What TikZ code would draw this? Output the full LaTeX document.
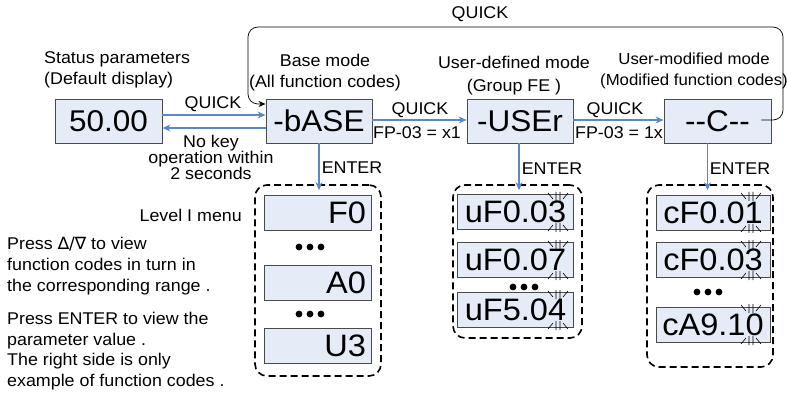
\documentclass[tikz,border=0pt]{standalone}
\usepackage{fontspec}
\setmainfont{Liberation Sans}[FakeStretch=1.05, Ligatures=TeXOff]
\newfontfamily\symfont{DejaVu Sans}
\usetikzlibrary{arrows.meta,calc}
\definecolor{boxfill}{HTML}{E6ECF7}
\definecolor{arrblue}{HTML}{5A87C8}
\definecolor{boxline}{HTML}{4A4A4A}
\newcommand\blinkmark[3]{%
  \draw[blinkline] (#1-2,#2-3) -- (#1-2,#2+6) (#1+2,#2-3) -- (#1+2,#2+6)
    (#1-10,#2-2) -- (#1-5,#2+4) (#1+10,#2-2) -- (#1+5,#2+4)
    (#1-2,#3+3) -- (#1-2,#3-6) (#1+2,#3+3) -- (#1+2,#3-6)
    (#1-10,#3+2) -- (#1-5,#3-4) (#1+10,#3+2) -- (#1+5,#3-4);}
\newcommand\dotrow[2]{%
  \fill (#1-11,#2) circle (3.4) (#1,#2) circle (3.4) (#1+11,#2) circle (3.4);}
\begin{document}
\begin{tikzpicture}[x=1pt,y=-1pt,
  lbl/.style={font=\fontsize{17}{21}\selectfont, inner sep=0pt, align=center},
  disp/.style={draw=boxline, line width=0.9pt, fill=boxfill, minimum height=44pt, inner sep=0pt, font=\fontsize{30}{30}\selectfont},
  item/.style={draw=boxline, line width=0.9pt, fill=boxfill, minimum height=35pt, inner ysep=0pt, font=\fontsize{31}{31}\selectfont},
  group/.style={draw=black, line width=1.6pt, dash pattern=on 7pt off 4pt, rounded corners=12pt, inner sep=0pt},
  barrow/.style={draw=arrblue, line width=1.1pt, -{Stealth[length=8pt,width=7pt]}},
  blinkline/.style={line width=0.6pt}
]
\useasboundingbox (0,0) rectangle (787,398);

% dashed groups
\node[group, minimum width=126pt, minimum height=191pt] (dl) at (318,280.5) {};
\node[group, minimum width=129pt, minimum height=153pt] (dm) at (517.5,261.5) {};
\node[group, minimum width=126pt, minimum height=182pt] (dr) at (710,276) {};

% main displays
\node[disp, minimum width=107pt] (s50) at (108.5,121) {50.00};
\node[disp, minimum width=106pt] (base) at (319,121) {-bASE};
\node[disp, minimum width=106pt] (user) at (520,121) {-USEr};
\node[disp, minimum width=107pt] (cmod) at (717.5,121) {--C--};

% captions
\node[lbl, align=left, anchor=west] (cap1) at (44,69.5) {Status parameters\\(Default display)};
\node[lbl] (cap2) at (325,72.5) {Base mode\\(All function codes)};
\node[lbl, font=\fontsize{17}{23}\selectfont] (cap3) at (514,75.5) {User-defined mode\\(Group FE )};
\node[lbl, font=\fontsize{16}{21}\selectfont] (cap4) at (694,70.5) {User-modified mode\\(Modified function codes)};

% horizontal arrows
\draw[barrow] ([yshift=6pt]s50.east) -- ([yshift=6pt]base.west);
\draw[barrow] ([yshift=-7pt]base.west) -- ([yshift=-7pt]s50.east);
\node[lbl] (q1) at (213,104) {QUICK};
\node[lbl, font=\fontsize{17}{16}\selectfont] (nokey) at (211,157) {No key\\operation within\\2 seconds};

\draw[barrow] ([yshift=1pt]base.east) -- ([yshift=1pt]user.west);
\node[lbl] (q2) at (420,110) {QUICK};
\node[lbl] (fp1) at (417,133) {FP-03 = x1};

\draw[barrow] ([yshift=1pt]user.east) -- ([yshift=1pt]cmod.west);
\node[lbl] (q3) at (615,110) {QUICK};
\node[lbl] (fp2) at (619,133) {FP-03 = 1x};

% loop back QUICK
\coordinate (ls) at ([xshift=-10pt,yshift=1pt]cmod.east);
\draw[line width=0.7pt, rounded corners=10pt, -{Stealth[length=7pt,width=6pt]}]
  (ls) -- (783,120) -- (783,27) -- (248,27) -- (248,104) -- ([yshift=17pt]base.west);
\node[lbl] (q4) at (480,14) {QUICK};

% ENTER arrows
\draw[barrow] (base.south) -- ([yshift=-6pt]base.south |- dl.north);
\node[lbl] (e1) at (352,168) {ENTER};
\draw[barrow] ([xshift=-1pt]user.south) -- ([xshift=-1pt,yshift=-6pt]user.south |- dm.north);
\node[lbl] (e2) at (552,169) {ENTER};
\draw[barrow] ([xshift=-10pt]cmod.south) -- ([xshift=-10pt,yshift=-6pt]cmod.south |- dr.north);
\node[lbl] (e3) at (740,169) {ENTER};

% left column items
\node[item, inner xsep=5pt, text width=97pt, align=right] (f0) at (317.5,212.5) {F0};
\dotrow{310}{247}
\node[item, inner xsep=5pt, text width=97pt, align=right] (a0) at (317.5,283) {A0};
\dotrow{310}{314}
\node[item, inner xsep=5pt, text width=97pt, align=right] (u3) at (317.5,346) {U3};

% middle column items
\node[item, inner xsep=0pt, minimum width=116pt] (uf1) at (515.5,212) {uF0.03};
\blinkmark{558}{195}{229}
\node[item, inner xsep=0pt, minimum width=116pt] (uf2) at (515.5,260) {uF0.07};
\blinkmark{558}{243}{277}
\dotrow{524}{287}
\node[item, inner xsep=0pt, minimum width=116pt] (uf3) at (515.5,310) {uF5.04};
\blinkmark{558}{293}{327}

% right column items
\node[item, inner xsep=0pt, minimum width=114pt] (cf1) at (713,212.5) {cF0.01};
\blinkmark{751}{195}{230}
\node[item, inner xsep=0pt, minimum width=114pt] (cf2) at (713,260) {cF0.03};
\blinkmark{751}{243}{277}
\dotrow{708}{292}
\node[item, inner xsep=0pt, minimum width=114pt] (cf3) at (713,324.5) {cA9.10};
\blinkmark{751}{307}{342}

% left texts
\node[lbl, anchor=east] (lvl) at (242,215) {Level I menu};
\node[lbl, align=left, anchor=west] (help1) at (7,266) {Press {\symfont ∆/∇} to view\\function codes in turn in\\the corresponding range .};
\node[lbl, align=left, anchor=west, font=\fontsize{17}{20.7}\selectfont] (help2) at (7,351) {Press ENTER to view the\\parameter value .\\The right side is only\\example of function codes .};
\end{tikzpicture}
\end{document}
